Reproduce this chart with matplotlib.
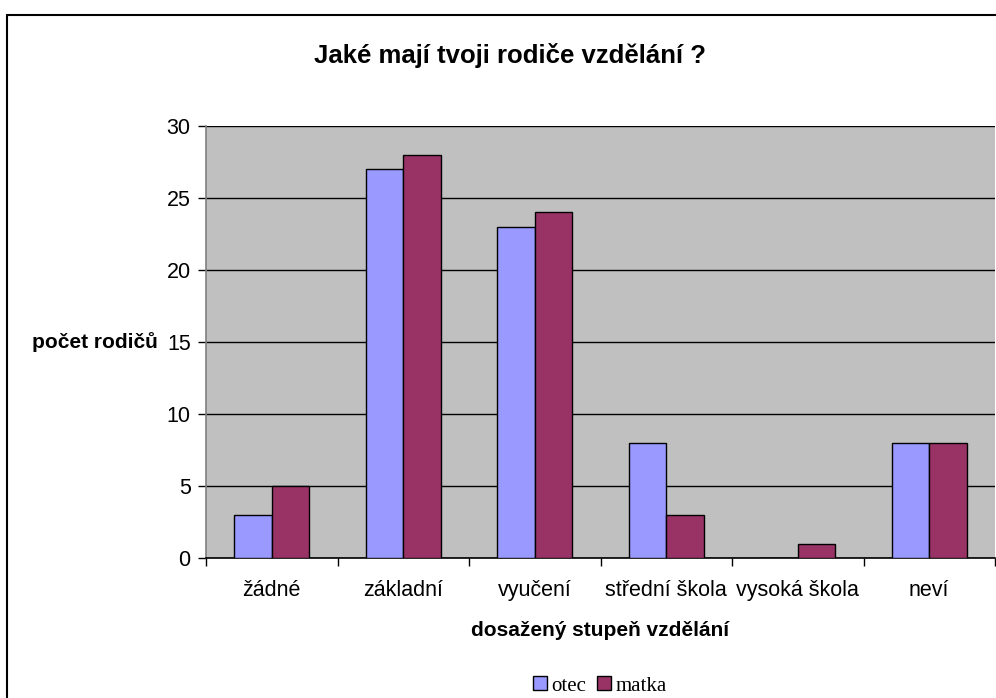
import matplotlib.pyplot as plt
import numpy as np
from matplotlib.patches import Rectangle

categories = ["žádné", "základní", "vyučení", "střední škola", "vysoká škola", "neví"]
otec = [3, 27, 23, 8, 0, 8]
matka = [5, 28, 24, 3, 1, 8]
series_names = ["otec", "matka"]
colors = ["#9999FF", "#993366"]

plt.rcParams["font.family"] = ["Liberation Sans", "DejaVu Sans"]


def main():
    fig = plt.figure(figsize=(9.96, 6.98), dpi=100)
    ax = fig.add_axes([206 / 996, 1 - 558 / 698, (995 - 206) / 996, (558 - 126) / 698])
    ax.set_facecolor("#C0C0C0")

    x = np.arange(len(categories))
    w = 0.285
    ax.bar(x - w / 2, otec, w, color=colors[0], edgecolor="black", linewidth=1,
           label=series_names[0], zorder=3)
    ax.bar(x + w / 2, matka, w, color=colors[1], edgecolor="black", linewidth=1,
           label=series_names[1], zorder=3)

    ax.set_xlim(-0.5, len(categories) - 0.5)
    ax.set_ylim(0, 30)
    ax.set_yticks(range(0, 31, 5))
    ax.yaxis.grid(True, color="black", linewidth=1, zorder=1)

    # ticks between categories, labels centered
    ax.set_xticks(np.arange(-0.5, len(categories), 1))
    ax.set_xticklabels([])
    ax.set_xticks(x, minor=True)
    ax.set_xticklabels(categories, minor=True, fontsize=15.5)
    ax.tick_params(axis="x", which="minor", length=0, pad=16)
    ax.tick_params(axis="x", which="major", length=6, width=1, direction="out")
    ax.tick_params(axis="y", length=6, width=1, labelsize=15.5, pad=5)

    for side in ("top", "right"):
        ax.spines[side].set_visible(False)
    ax.spines["left"].set_color("#808080")
    ax.spines["left"].set_linewidth(1.2)
    ax.spines["bottom"].set_linewidth(1.2)

    ax.set_xlabel("dosažený stupeň vzdělání", fontsize=15, fontweight="bold", labelpad=14)
    fig.text(32 / 996, 1 - 342 / 698, "počet rodičů", fontsize=15, fontweight="bold",
             ha="left", va="center")
    fig.text(510 / 996, 1 - 55 / 698, "Jaké mají tvoji rodiče vzdělání ?", fontsize=18.5,
             fontweight="bold", ha="center", va="center")

    fig.legend(loc="center", bbox_to_anchor=(600 / 996, 1 - 686 / 698), ncol=2,
               frameon=False, handlelength=0.65, handleheight=0.65, handletextpad=0.25,
               columnspacing=0.5, borderpad=0.2,
               prop={"family": "Liberation Serif", "size": 15})

    # chart area border
    fig.patches.append(Rectangle((7 / 996, -0.05), 1.1, 1 - 15 / 698 + 0.05,
                                 transform=fig.transFigure, fill=False,
                                 edgecolor="black", linewidth=1.5))

    fig.savefig("out.png", dpi=100)


if __name__ == "__main__":
    main()
